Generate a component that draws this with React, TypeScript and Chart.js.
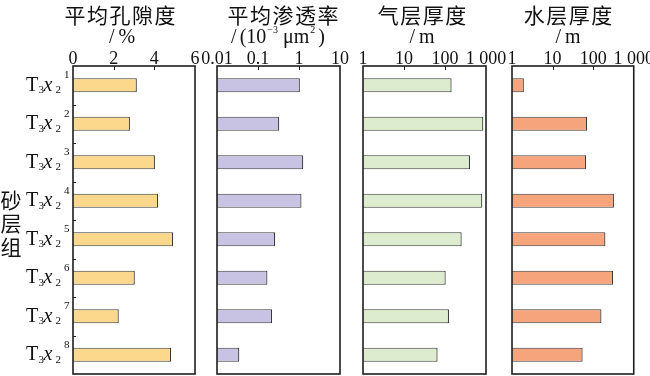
import React, { useEffect, useRef } from "react";
import { Chart, registerables } from "chart.js";

Chart.register(...registerables);

// ---------- data ----------
const categorySuperscripts = ["1", "2", "3", "4", "5", "6", "7", "8"];
const porosity = [3.14, 2.8, 4.03, 4.19, 4.92, 3.04, 2.25, 4.82];
const permeability = [1.05, 0.33, 1.27, 1.15, 0.26, 0.17, 0.22, 0.035];
const gasThickness = [145, 860, 407, 813, 255, 104, 125, 66];
const waterThickness = [1.96, 71, 67, 325, 200, 309, 160, 55];

const porosityTicks = [0, 2, 4, 6];
const porosityTickLabels = ["0", "2", "4", "6"];
const permTicks = [0.01, 0.1, 1, 10];
const permTickLabels = ["0.01", "0.1", "1", "10"];
const thickTicks = [1, 10, 100, 1000];
const thickTickLabels = ["1", "10", "100", "1 000"];

const titles = ["平均孔隙度", "平均渗透率", "气层厚度", "水层厚度"];
const yAxisTitle = "砂层组";

// ---------- layout / style ----------
const W = 650;
const H = 376;
const PLOT_TOP = 66;
const PLOT_BOTTOM = 374;
const SERIF = '"Liberation Serif", "Times New Roman", serif';
const CJK = '"Noto Sans CJK SC", "Noto Sans", sans-serif';

type Seg = { t: string; size: number; dy?: number; dx?: number; italic?: boolean };

function drawRich(ctx: CanvasRenderingContext2D, segs: Seg[], cx: number, baseline: number) {
  const widths: number[] = [];
  let total = 0;
  segs.forEach((s) => {
    ctx.font = `${s.italic ? "italic " : ""}${s.size}px ${SERIF}`;
    const w = ctx.measureText(s.t).width;
    widths.push(w);
    total += w + (s.dx || 0);
  });
  let x = cx - total / 2;
  ctx.textAlign = "left";
  ctx.textBaseline = "alphabetic";
  segs.forEach((s, i) => {
    x += s.dx || 0;
    ctx.font = `${s.italic ? "italic " : ""}${s.size}px ${SERIF}`;
    ctx.fillText(s.t, x, baseline - (s.dy || 0));
    x += widths[i];
  });
}

function drawSpacedCJK(ctx: CanvasRenderingContext2D, text: string, cx: number, cy: number, step: number, size: number) {
  const chars = Array.from(text);
  ctx.font = `${size}px ${CJK}`;
  ctx.textAlign = "center";
  ctx.textBaseline = "middle";
  const start = cx - ((chars.length - 1) * step) / 2;
  chars.forEach((c, i) => ctx.fillText(c, start + i * step, cy));
}

type PanelCfg = {
  left: number;
  right: number;
  data: number[];
  color: string;
  type: "linear" | "logarithmic";
  ticks: number[];
  tickLabels: string[];
  title: string;
  titleX: number;
  unit: Seg[];
  unitX: number;
  first?: boolean;
};

const panels: PanelCfg[] = [
  {
    left: 73, right: 195, data: porosity, color: "#FCD88C", type: "linear",
    ticks: porosityTicks, tickLabels: porosityTickLabels, title: titles[0], titleX: 120,
    unit: [{ t: "/", size: 20 }, { t: "%", size: 20, dx: 4 }], unitX: 122, first: true,
  },
  {
    left: 217, right: 340, data: permeability, color: "#C8C3E2", type: "logarithmic",
    ticks: permTicks, tickLabels: permTickLabels, title: titles[1], titleX: 283,
    unit: [
      { t: "/", size: 20 },
      { t: "(10", size: 20, dx: 3 },
      { t: "−3", size: 10, dy: 10, dx: 1 },
      { t: " μm", size: 20 },
      { t: "2", size: 10, dy: 10, dx: 1 },
      { t: ")", size: 20, dx: 3 },
    ],
    unitX: 278,
  },
  {
    left: 363, right: 486, data: gasThickness, color: "#DDEBCE", type: "logarithmic",
    ticks: thickTicks, tickLabels: thickTickLabels, title: titles[2], titleX: 422,
    unit: [{ t: "/", size: 20 }, { t: "m", size: 20, dx: 4 }], unitX: 422,
  },
  {
    left: 512, right: 635, data: waterThickness, color: "#F5A47B", type: "logarithmic",
    ticks: thickTicks, tickLabels: thickTickLabels, title: titles[3], titleX: 568,
    unit: [{ t: "/", size: 20 }, { t: "m", size: 20, dx: 4 }], unitX: 568,
  },
];

function makeChart(canvas: HTMLCanvasElement, p: PanelCfg) {
  const decorPlugin = {
    id: "decor",
    afterDatasetsDraw(chart: any) {
      const ctx: CanvasRenderingContext2D = chart.ctx;
      const a = chart.chartArea;
      const xs = chart.scales.x;
      const ys = chart.scales.y;
      ctx.save();
      ctx.strokeStyle = "#1e1e1e";
      ctx.lineWidth = 1.6;
      ctx.strokeRect(a.left, a.top, a.right - a.left, a.bottom - a.top);
      ctx.lineWidth = 1;
      xs.ticks.forEach((t: any) => {
        if (t.value === xs.min || t.value === xs.max) return;
        const x = Math.round(xs.getPixelForValue(t.value)) + 0.5;
        ctx.beginPath();
        ctx.moveTo(x, a.top);
        ctx.lineTo(x, a.top + 4);
        ctx.stroke();
      });
      if (p.first) {
        for (let i = 1; i < p.data.length; i++) {
          const y = Math.round((ys.getPixelForValue(i - 1) + ys.getPixelForValue(i)) / 2) + 0.5;
          ctx.beginPath();
          ctx.moveTo(a.left, y);
          ctx.lineTo(a.left + 3, y);
          ctx.stroke();
        }
      }
      ctx.restore();
    },
    afterDraw(chart: any) {
      const ctx: CanvasRenderingContext2D = chart.ctx;
      const ys = chart.scales.y;
      ctx.save();
      ctx.fillStyle = "#111";
      drawSpacedCJK(ctx, p.title, p.titleX, 15, 22.5, 21);
      drawRich(ctx, p.unit, p.unitX, 43);
      if (p.first) {
        const yc = Array.from(yAxisTitle);
        ctx.font = `21px ${CJK}`;
        ctx.textAlign = "center";
        ctx.textBaseline = "middle";
        yc.forEach((c, i) => ctx.fillText(c, 11, 200 + i * 23.5));
        categorySuperscripts.forEach((sup, i) => {
          const y = ys.getPixelForValue(i);
          const base = y + 5.5;
          ctx.textAlign = "left";
          ctx.textBaseline = "alphabetic";
          ctx.font = `20px ${SERIF}`;
          ctx.fillText("T", 26, base);
          ctx.font = `11px ${SERIF}`;
          ctx.fillText("3", 38.5, base + 2.5);
          ctx.font = `italic 20px ${SERIF}`;
          ctx.fillText("x", 43.5, base);
          ctx.font = `11px ${SERIF}`;
          ctx.fillText("2", 55.5, base + 2.5);
          ctx.fillText(sup, 64, base - 12.5);
        });
      }
      ctx.restore();
    },
  };

  return new Chart(canvas, {
    type: "bar",
    data: {
      labels: categorySuperscripts,
      datasets: [
        {
          data: p.data,
          backgroundColor: p.color,
          borderColor: "#3a3a3a",
          borderWidth: 1.2,
          barPercentage: 0.37,
          categoryPercentage: 1,
        },
      ],
    },
    options: {
      indexAxis: "y",
      responsive: false,
      animation: false,
      devicePixelRatio: 1,
      layout: {
        padding: { left: p.left, right: W - p.right, top: 0, bottom: H - PLOT_BOTTOM },
      },
      plugins: { legend: { display: false }, tooltip: { enabled: false } },
      scales: {
        x: {
          type: p.type,
          position: "top",
          min: p.ticks[0],
          max: p.ticks[p.ticks.length - 1],
          afterFit: (s: any) => {
            s.height = PLOT_TOP;
          },
          afterBuildTicks: (s: any) => {
            s.ticks = p.ticks.map((v) => ({ value: v }));
          },
          ticks: {
            autoSkip: false,
            maxRotation: 0,
            padding: -4,
            color: "#111",
            font: { family: SERIF, size: 18 },
            callback: (v: any) => {
              const idx = p.ticks.findIndex((t) => Math.abs(t - Number(v)) < 1e-9);
              return idx >= 0 ? p.tickLabels[idx] : "";
            },
          },
          grid: { display: false, drawTicks: false },
          border: { display: false },
        },
        y: { display: false, offset: true },
      },
    } as any,
    plugins: [decorPlugin],
  });
}

export default function App() {
  const refs = [
    useRef<HTMLCanvasElement>(null),
    useRef<HTMLCanvasElement>(null),
    useRef<HTMLCanvasElement>(null),
    useRef<HTMLCanvasElement>(null),
  ];
  useEffect(() => {
    const charts = panels.map((p, i) => makeChart(refs[i].current as HTMLCanvasElement, p));
    return () => charts.forEach((c) => c.destroy());
  }, []);
  return (
    <div style={{ position: "absolute", left: 0, top: 0, width: W, height: H, background: "#fff" }}>
      {refs.map((r, i) => (
        <canvas
          key={i}
          ref={r}
          width={W}
          height={H}
          style={{ position: "absolute", left: 0, top: 0, width: W, height: H }}
        />
      ))}
    </div>
  );
}
